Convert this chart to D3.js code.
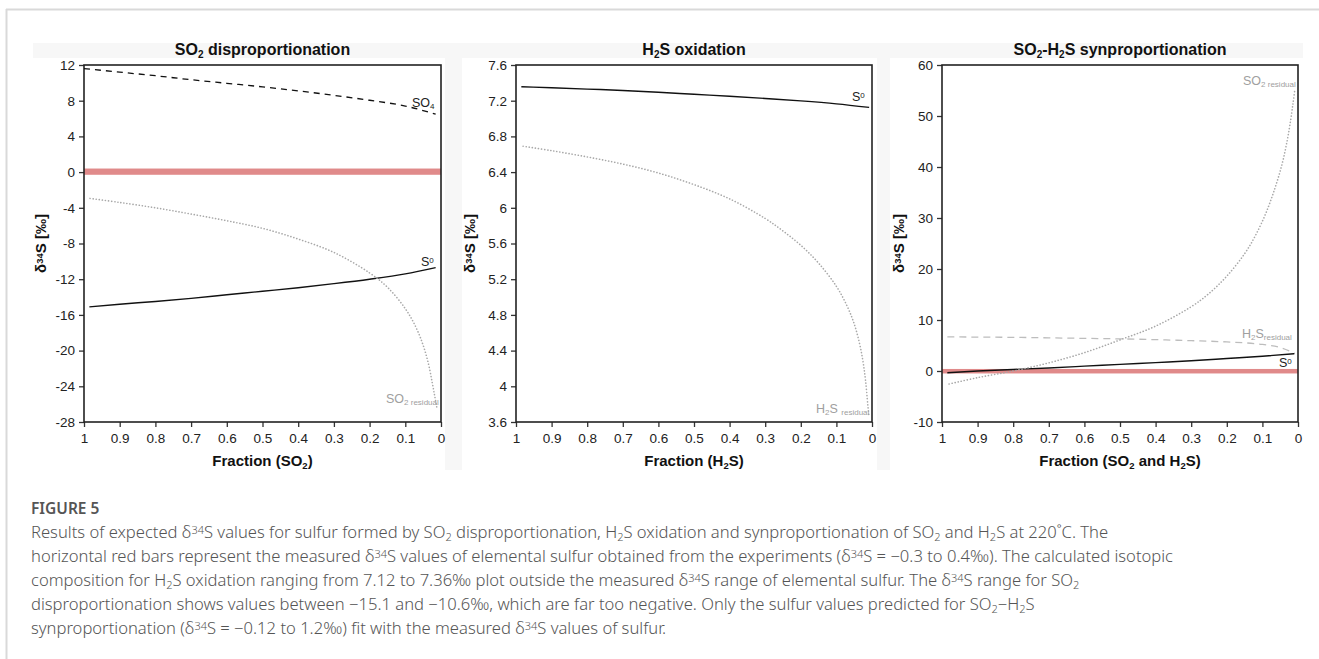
<!DOCTYPE html>
<html>
<head>
<meta charset="utf-8">
<script src="https://cdn.jsdelivr.net/npm/d3@7"></script>
<style>
  body { margin: 0; background: #fff; }
  svg { display: block; }
</style>
</head>
<body>
<svg id="fig" width="1319" height="659"></svg>
<script>
// x ticks shared by all three panels (fraction remaining)
const fracTicks = [1, 0.9, 0.8, 0.7, 0.6, 0.5, 0.4, 0.3, 0.2, 0.1, 0];

// panel 1 : SO2 disproportionation
const p1Ticks = [12, 8, 4, 0, -4, -8, -12, -16, -20, -24, -28];
const p1SO4 = [[1, 11.6], [0.9, 11.2], [0.8, 10.8], [0.7, 10.35], [0.6, 9.95], [0.5, 9.55], [0.4, 9.1], [0.3, 8.6], [0.2, 8.05], [0.1, 7.4], [0.015, 6.5]];
const p1S0 = [[0.985, -15.1], [0.9, -14.8], [0.8, -14.5], [0.7, -14.15], [0.6, -13.75], [0.5, -13.35], [0.4, -12.95], [0.3, -12.5], [0.2, -12.0], [0.1, -11.4], [0.015, -10.7]];
const p1SO2res = [[0.983, -2.95], [0.9, -3.4], [0.8, -4.0], [0.7, -4.7], [0.6, -5.45], [0.5, -6.3], [0.4, -7.5], [0.3, -9.0], [0.2, -11.3], [0.15, -12.9], [0.1, -15.3], [0.07, -17.4], [0.05, -19.4], [0.035, -21.5], [0.025, -23.5], [0.018, -25.0], [0.012, -26.3]];

// panel 2 : H2S oxidation
const p2Ticks = [7.6, 7.2, 6.8, 6.4, 6, 5.6, 5.2, 4.8, 4.4, 4, 3.6];
const p2S0 = [[0.985, 7.357], [0.9, 7.345], [0.8, 7.33], [0.7, 7.315], [0.6, 7.295], [0.5, 7.272], [0.4, 7.25], [0.3, 7.225], [0.2, 7.198], [0.1, 7.165], [0.008, 7.125]];
const p2H2Sres = [[0.98, 6.69], [0.9, 6.64], [0.8, 6.57], [0.7, 6.49], [0.6, 6.39], [0.5, 6.26], [0.4, 6.1], [0.3, 5.88], [0.25, 5.74], [0.2, 5.58], [0.15, 5.38], [0.1, 5.12], [0.07, 4.9], [0.05, 4.7], [0.035, 4.48], [0.025, 4.27], [0.018, 4.06], [0.012, 3.8], [0.009, 3.68]];

// panel 3 : SO2-H2S synproportionation
const p3Ticks = [60, 50, 40, 30, 20, 10, 0, -10];
const p3S0 = [[0.985, -0.35], [0.9, 0.0], [0.8, 0.3], [0.7, 0.6], [0.6, 0.95], [0.5, 1.3], [0.4, 1.65], [0.3, 2.0], [0.2, 2.45], [0.1, 2.9], [0.01, 3.4]];
const p3H2Sres = [[0.985, 6.7], [0.9, 6.65], [0.8, 6.6], [0.7, 6.5], [0.6, 6.4], [0.5, 6.3], [0.4, 6.15], [0.3, 5.95], [0.2, 5.7], [0.1, 5.2], [0.05, 4.6], [0.01, 3.5]];
const p3SO2res = [[0.98, -2.55], [0.9, -1.3], [0.8, 0.0], [0.7, 1.6], [0.6, 3.6], [0.5, 6.1], [0.4, 8.8], [0.3, 12.6], [0.25, 15.2], [0.2, 18.6], [0.15, 23.0], [0.12, 26.5], [0.09, 31.0], [0.065, 35.8], [0.045, 40.5], [0.03, 45.3], [0.02, 49.5], [0.014, 52.5], [0.009, 55.1]];

// measured elemental sulfur range (red bar)
const measured = [-0.3, 0.4];

const captionTitle = "FIGURE 5";
const captionLines = [
  "Results of expected δ^{34}S values for sulfur formed by SO_{2} disproportionation, H_{2}S oxidation and synproportionation of SO_{2} and H_{2}S at 220˚C. The",
  "horizontal red bars represent the measured δ^{34}S values of elemental sulfur obtained from the experiments (δ^{34}S = −0.3 to 0.4‰). The calculated isotopic",
  "composition for H_{2}S oxidation ranging from 7.12 to 7.36‰ plot outside the measured δ^{34}S range of elemental sulfur. The δ^{34}S range for SO_{2}",
  "disproportionation shows values between −15.1 and −10.6‰, which are far too negative. Only the sulfur values predicted for SO_{2}−H_{2}S",
  "synproportionation (δ^{34}S = −0.12 to 1.2‰) fit with the measured δ^{34}S values of sulfur."
];

const svg = d3.select("#fig");
const AX = "'Liberation Sans', Arial, sans-serif";

// writes text with _{sub} and ^{sup} parts as tspans
function rich(sel, str, small) {
  const parts = str.split(/([_^]\{[^}]*\})/).filter(s => s.length);
  parts.forEach(p => {
    if (p[0] === "_" && p[1] === "{") {
      sel.append("tspan").attr("baseline-shift", "-25%").attr("font-size", small).text(p.slice(2, -1));
    } else if (p[0] === "^" && p[1] === "{") {
      sel.append("tspan").attr("baseline-shift", "35%").attr("font-size", small).text(p.slice(2, -1));
    } else {
      sel.append("tspan").text(p);
    }
  });
  return sel;
}

// border of the page
svg.append("line").attr("x1", 6).attr("x2", 1319).attr("y1", 9.5).attr("y2", 9.5).attr("stroke", "#d9d9d9").attr("stroke-width", 2);
svg.append("line").attr("x1", 6.5).attr("x2", 6.5).attr("y1", 9).attr("y2", 659).attr("stroke", "#d9d9d9").attr("stroke-width", 2);

// faint figure background
svg.append("rect").attr("x", 33).attr("y", 43).attr("width", 1270).attr("height", 427).attr("fill", "#f7f7f7");
[[33, 412], [462, 415], [890, 413]].forEach(d => {
  svg.append("rect").attr("x", d[0]).attr("y", 58).attr("width", d[1]).attr("height", 412).attr("fill", "#fff");
});

const hyphen = d => String(d).replace("\u2212", "-");
const panels = [
  { left: 84, right: 441, ytitleX: 41, domain: [-28, 12], ticks: p1Ticks, fmt: d => hyphen(d),
    title: "SO_{2} disproportionation", xtitle: "Fraction (SO_{2})", bar: true },
  { left: 516, right: 872, ytitleX: 470, domain: [3.6, 7.6], ticks: p2Ticks, fmt: d => hyphen(Math.round(d * 10) / 10),
    title: "H_{2}S oxidation", xtitle: "Fraction (H_{2}S)", bar: false },
  { left: 942, right: 1298, ytitleX: 899, domain: [-10, 60], ticks: p3Ticks, fmt: d => hyphen(d),
    title: "SO_{2}-H_{2}S synproportionation", xtitle: "Fraction (SO_{2} and H_{2}S)", bar: true }
];
const plotTop = 65, plotBottom = 422;

function drawPanel(p) {
  const x = d3.scaleLinear().domain([1, 0]).range([p.left, p.right]);
  const y = d3.scaleLinear().domain(p.domain).range([plotBottom, plotTop]);
  const g = svg.append("g");
  p.x = x; p.y = y; p.g = g;

  if (p.bar) {
    g.append("rect")
      .attr("x", x(1)).attr("width", x(0) - x(1))
      .attr("y", y(measured[1])).attr("height", Math.max(4.5, y(measured[0]) - y(measured[1])))
      .attr("fill", "#e08a8a");
  }

  const xAxis = d3.axisBottom(x).tickValues(fracTicks).tickSize(5).tickPadding(6)
    .tickFormat(d => d === 0 || d === 1 ? String(d) : d.toFixed(1));
  const gx = g.append("g").attr("transform", "translate(0," + plotBottom + ")").call(xAxis);
  const yAxis = d3.axisLeft(y).tickValues(p.ticks).tickSize(5).tickPadding(4).tickFormat(p.fmt);
  const gy = g.append("g").attr("transform", "translate(" + p.left + ",0)").call(yAxis);
  [gx, gy].forEach(a => {
    a.attr("font-family", AX).attr("font-size", 13.5);
    a.select(".domain").remove();
    a.selectAll("line").attr("stroke", "#333").attr("stroke-width", 1.3);
    a.selectAll("text").attr("fill", "#222");
  });

  g.append("rect").attr("x", p.left).attr("y", plotTop).attr("width", p.right - p.left).attr("height", plotBottom - plotTop)
    .attr("fill", "none").attr("stroke", "#222").attr("stroke-width", 1.6);

  const cx = (p.left + p.right) / 2;
  rich(g.append("text").attr("x", cx).attr("y", 55).attr("text-anchor", "middle")
    .attr("font-family", AX).attr("font-weight", "bold").attr("font-size", 16).attr("fill", "#111"), p.title, 10);
  rich(g.append("text").attr("x", cx).attr("y", 466).attr("text-anchor", "middle")
    .attr("font-family", AX).attr("font-weight", "bold").attr("font-size", 15).attr("fill", "#111"), p.xtitle, 9.5);
  rich(g.append("text").attr("transform", "translate(" + p.ytitleX + "," + (plotTop + plotBottom) / 2 + ") rotate(-90)")
    .attr("text-anchor", "middle").attr("dy", "0.35em")
    .attr("font-family", AX).attr("font-weight", "bold").attr("font-size", 15).attr("fill", "#111"), "δ^{34}S [‰]", 9.5);
}
panels.forEach(drawPanel);

function series(p, data, style, curve) {
  const line = d3.line().x(d => p.x(d[0])).y(d => p.y(d[1])).curve(curve || d3.curveMonotoneX);
  p.g.append("path").datum(data).attr("d", line).attr("fill", "none")
    .attr("stroke", style.color).attr("stroke-width", style.width)
    .attr("stroke-dasharray", style.dash || null).attr("stroke-linecap", style.cap || "butt");
}
function label(p, x, y, str, color) {
  rich(p.g.append("text").attr("x", x).attr("y", y).attr("font-family", AX).attr("font-size", 12.5).attr("fill", color), str, 8);
}

const solid = { color: "#111", width: 1.4 };
const blackDash = { color: "#111", width: 1.3, dash: "6,5" };
const grayDash = { color: "#bdbdbd", width: 1.3, dash: "7,5" };
const dotted = { color: "#a8a8a8", width: 1.6, dash: "0.1,3", cap: "round" };

const [P1, P2, P3] = panels;
series(P1, p1SO4, blackDash);
series(P1, p1S0, solid);
series(P1, p1SO2res, dotted, d3.curveCatmullRom);
label(P1, 412, 107, "SO_{4}", "#222");
label(P1, 421, 266, "S^{0}", "#222");
label(P1, 386, 403, "SO_{2 residual}", "#a0a0a0");

series(P2, p2S0, solid);
series(P2, p2H2Sres, dotted, d3.curveCatmullRom);
label(P2, 852, 101, "S^{0}", "#222");
label(P2, 816, 413, "H_{2}S _{residual}", "#a0a0a0");

series(P3, p3H2Sres, grayDash);
series(P3, p3S0, solid);
series(P3, p3SO2res, dotted, d3.curveCatmullRom);
label(P3, 1243, 85, "SO_{2 residual}", "#a0a0a0");
label(P3, 1242, 338, "H_{2}S_{residual}", "#a0a0a0");
label(P3, 1279, 367, "S^{0}", "#222");

// caption
const CAP = "'Noto Sans', 'Open Sans', sans-serif";
svg.append("text").attr("x", 31).attr("y", 514).attr("font-family", CAP).attr("font-weight", 600)
  .attr("font-size", 15.5).attr("fill", "#555").text(captionTitle);
captionLines.forEach((s, i) => {
  rich(svg.append("text").attr("x", 31).attr("y", 538 + i * 24).attr("font-family", CAP).attr("font-weight", 300)
    .attr("font-size", 16.6).attr("fill", "#555"), s, 11);
});
</script>
</body>
</html>
